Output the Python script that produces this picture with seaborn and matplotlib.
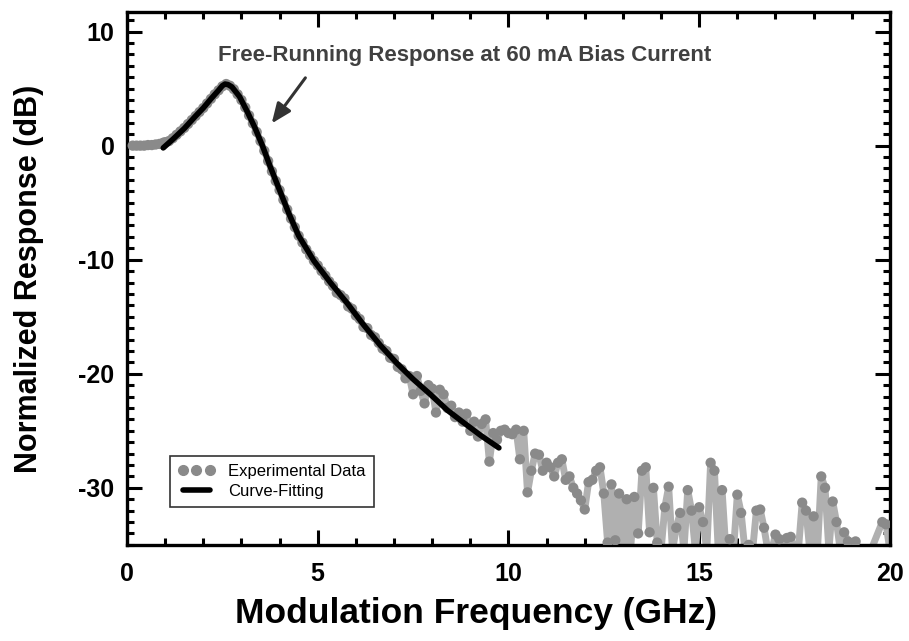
import numpy as np
import pandas as pd
import matplotlib
matplotlib.use("Agg")
import matplotlib.pyplot as plt
from matplotlib.ticker import MultipleLocator
from matplotlib.lines import Line2D
import seaborn as sns

exp_freq = [0.15, 0.25, 0.35, 0.45, 0.55, 0.65, 0.75, 0.85, 0.95,
            1.0, 1.1, 1.2, 1.3, 1.4, 1.5, 1.6, 1.7, 1.8, 1.9,
            2.0, 2.1, 2.2, 2.3, 2.4, 2.5, 2.6, 2.7, 2.8, 2.9,
            3.0, 3.1, 3.2, 3.3, 3.4, 3.5, 3.6, 3.7, 3.8, 3.9,
            4.0, 4.1, 4.2, 4.3, 4.4, 4.5, 4.6, 4.7, 4.8, 4.9,
            5.0, 5.1, 5.2, 5.3, 5.4, 5.5, 5.6, 5.7, 5.8, 5.9,
            6.0, 6.1, 6.2, 6.3, 6.4, 6.5, 6.6, 6.7, 6.8, 6.9,
            7.0, 7.1, 7.2, 7.3, 7.4,
            7.5, 7.6, 7.7, 7.8, 7.9, 8.0, 8.1, 8.2, 8.3, 8.4, 8.5, 8.6, 8.7, 8.8, 8.9,
            9.0, 9.1, 9.2, 9.3, 9.4, 9.5, 9.6, 9.7, 9.8, 9.9,
            10.0, 10.1, 10.2, 10.3, 10.4, 10.5, 10.6, 10.7, 10.8, 10.9,
            11.0, 11.1, 11.2, 11.3, 11.4, 11.5, 11.6, 11.7, 11.8, 11.9,
            12.0, 12.1, 12.2, 12.3, 12.4, 12.5, 12.6, 12.7, 12.8, 12.9,
            13.0, 13.1, 13.2, 13.3, 13.4, 13.5, 13.6, 13.7, 13.8, 13.9,
            14.0, 14.1, 14.2, 14.3, 14.4, 14.5, 14.6, 14.7, 14.8, 14.9,
            15.0, 15.1, 15.2, 15.3, 15.4, 15.5, 15.6, 15.7, 15.8, 15.9,
            16.0, 16.1, 16.2, 16.3, 16.4, 16.5, 16.6, 16.7, 16.8, 16.9,
            17.0, 17.1, 17.2, 17.3, 17.4, 17.5, 17.6, 17.7, 17.8, 17.9,
            18.0, 18.1, 18.2, 18.3, 18.4, 18.5, 18.6, 18.7, 18.8, 18.9,
            19.0, 19.1, 19.2, 19.5, 19.8, 19.9, 20.0]
exp_db = [0.0, 0.0, 0.0, 0.0, 0.05, 0.05, 0.1, 0.15, 0.25,
          0.3, 0.4, 0.65, 0.95, 1.25, 1.55, 1.9, 2.25, 2.6, 2.95,
          3.3, 3.7, 4.1, 4.5, 4.85, 5.2, 5.4, 5.25, 4.95, 4.5,
          4.0, 3.35, 2.65, 1.95, 1.2, 0.4, -0.45, -1.35, -2.25, -3.1,
          -3.9, -4.75, -5.6, -6.4, -7.15, -7.9, -8.5, -9.1, -9.6, -10.1,
          -10.5, -11.0, -11.4, -11.9, -12.3, -12.9, -13.1, -13.4, -14.1, -14.3,
          -14.9, -15.2, -15.9, -16.0, -16.6, -16.8, -17.3, -17.8, -18.0, -18.6,
          -18.7, -19.4, -19.6, -20.4, -20.2,
          -21.8, -20.2, -21.5, -22.6, -21.0, -21.3, -23.4, -21.4, -21.8, -23.0, -22.8, -23.8, -23.4, -24.2, -23.5,
          -25.0, -24.2, -25.5, -24.4, -24.0, -27.7, -25.2, -25.8, -25.0, -24.9,
          -25.2, -25.3, -24.9, -27.5, -25.0, -30.4, -28.5, -27.0, -27.1, -28.5,
          -27.8, -28.2, -29.0, -27.8, -27.5, -29.3, -29.0, -30.0, -30.5, -31.1,
          -31.9, -29.5, -29.3, -28.5, -28.2, -30.5, -34.8, -29.7, -34.6, -30.5,
          -35.5, -31.0, -35.5, -30.8, -34.0, -28.5, -28.2, -33.9, -30.0, -34.8,
          -35.5, -31.7, -29.9, -35.5, -33.5, -32.2, -35.5, -30.2, -32.0, -35.5,
          -31.7, -33.0, -35.5, -27.8, -28.5, -35.5, -30.2, -35.5, -34.5, -35.5,
          -30.6, -32.2, -35.5, -35.0, -35.5, -32.0, -31.9, -33.5, -35.5, -35.5,
          -34.1, -34.5, -35.5, -34.4, -34.3, -35.5, -35.5, -31.3, -32.0, -35.5,
          -32.5, -35.5, -29.0, -30.0, -35.5, -31.2, -33.0, -35.5, -33.9, -34.7,
          -35.5, -34.7, -35.5, -35.5, -33.0, -33.2, -35.5]

# curve fit
fit_freq = [0.95, 1.2, 1.5, 1.8, 2.0, 2.2, 2.4, 2.5, 2.57, 2.65, 2.75, 2.95, 3.15, 3.35, 3.55, 3.75,
            4.0, 4.25, 4.5, 4.9, 5.33, 5.77, 6.2, 6.64, 7.08, 7.51, 7.95, 8.4, 8.83, 9.27, 9.75]
fit_db = [-0.2, 0.55, 1.5, 2.6, 3.3, 4.1, 4.85, 5.25, 5.4, 5.35, 5.15, 4.3, 3.0, 1.6, 0.0, -1.8,
          -3.9, -6.0, -7.9, -10.1, -12.0, -13.8, -15.7, -17.5, -19.1, -20.5, -21.8, -23.2, -24.3, -25.4, -26.5]

exp_df = pd.DataFrame({"freq": exp_freq, "db": exp_db})
fit_df = pd.DataFrame({"freq": fit_freq, "db": fit_db})

sns.set_style("ticks")
plt.rcParams['font.family'] = ['Liberation Sans', 'DejaVu Sans']
plt.rcParams['axes.unicode_minus'] = False
plt.rcParams['text.color'] = 'black'
plt.rcParams['axes.labelcolor'] = 'black'
plt.rcParams['xtick.color'] = 'black'
plt.rcParams['ytick.color'] = 'black'

fig = plt.figure(figsize=(9.09, 6.41), dpi=100)
ax = fig.add_axes([0.1397, 0.15, 0.8393, 0.831])

gray = "#8a8a8a"
sns.lineplot(data=exp_df, x="freq", y="db", ax=ax, color="#b0b0b0", lw=5, sort=False)
sns.scatterplot(data=exp_df, x="freq", y="db", ax=ax, color=gray, s=55, edgecolor="none", zorder=3)
sns.lineplot(data=fit_df, x="freq", y="db", ax=ax, color="black", lw=4, sort=False, zorder=4)

ax.set_xlim(0, 20)
ax.set_ylim(-35, 11.7)
ax.xaxis.set_major_locator(MultipleLocator(5))
ax.xaxis.set_minor_locator(MultipleLocator(1))
ax.yaxis.set_major_locator(MultipleLocator(10))
ax.yaxis.set_minor_locator(MultipleLocator(1))
ax.tick_params(which="both", direction="in", top=True, right=True, width=2.2,
               color="black", labelcolor="black")
ax.tick_params(which="major", length=11, labelsize=18, pad=9)
ax.tick_params(axis="x", which="major", pad=12)
ax.tick_params(which="minor", length=5)
for lab in ax.get_xticklabels() + ax.get_yticklabels():
    lab.set_fontweight("bold")
for sp in ax.spines.values():
    sp.set_linewidth(2.4)
    sp.set_color("black")

ax.set_xlabel("Modulation Frequency (GHz)", fontsize=25.5, fontweight="bold", color="black")
ax.set_ylabel("Normalized Response (dB)", fontsize=22, fontweight="bold", color="black")
ax.xaxis.set_label_coords(0.457, -0.097)
ax.yaxis.set_label_coords(-0.109, 0.5)

ax.text(8.85, 7.9, "Free-Running Response at 60 mA Bias Current", fontsize=16,
        fontweight="bold", color="#404040", ha="center", va="center")
ax.annotate("", xy=(3.75, 1.75), xytext=(4.72, 6.14),
            arrowprops=dict(arrowstyle="-|>,head_length=1.2,head_width=0.5", color="#333333", lw=2.2))

handles = [Line2D([0], [0], color=gray, marker="o", ls="none", markersize=7),
           Line2D([0], [0], color="black", lw=4)]
leg = ax.legend(handles, ["Experimental Data", "Curve-Fitting"], loc="lower left",
                bbox_to_anchor=(0.045, 0.055), fontsize=12, frameon=True, fancybox=False,
                edgecolor="black", handlelength=2.2, handletextpad=0.8, numpoints=3,
                borderpad=0.5, labelspacing=0.3)
leg.get_frame().set_linewidth(1.2)
for t in leg.get_texts():
    t.set_color("black")

fig.savefig("out.png", dpi=100)
